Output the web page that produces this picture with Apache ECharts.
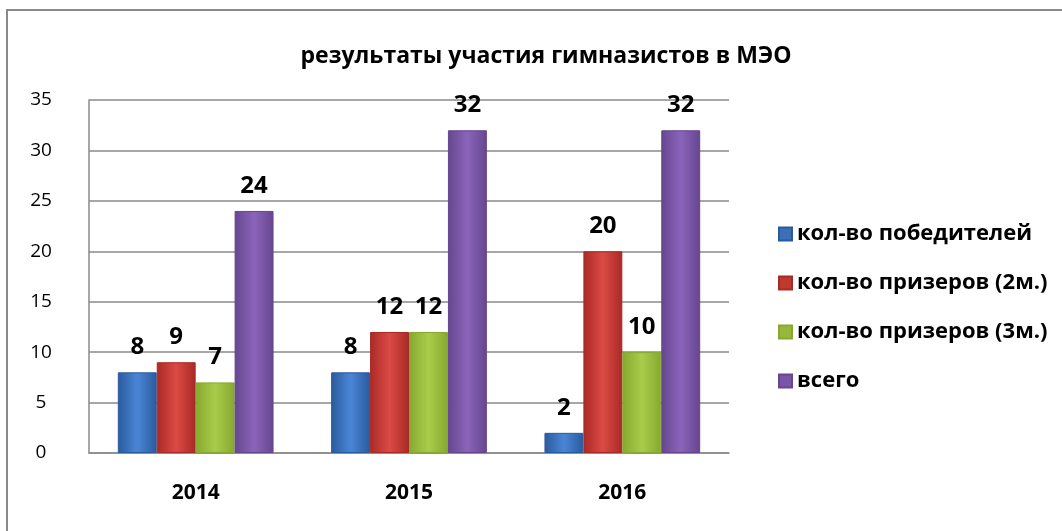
<!DOCTYPE html>
<html><head><meta charset="utf-8">
<script src="https://cdn.jsdelivr.net/npm/echarts@6/dist/echarts.min.js"></script>
<style>html,body{margin:0;padding:0;background:#fff}#c{width:1062px;height:531px}</style>
</head><body><div id="c"></div>
<script>
const categories = ['2014', '2015', '2016'];
const seriesNames = ['кол-во победителей', 'кол-во призеров (2м.)', 'кол-во призеров (3м.)', 'всего'];
const winners = [8, 8, 2];
const prize2 = [9, 12, 20];
const prize3 = [7, 12, 10];
const total = [24, 32, 32];
const yTicks = [0, 5, 10, 15, 20, 25, 30, 35];

const colors = [
  ['#2a5a9e', '#4a86d6', '#2a5a9e'],
  ['#a82a26', '#dc4a44', '#a82a26'],
  ['#86a82e', '#aacc4c', '#86a82e'],
  ['#66468f', '#8a64ba', '#66468f']
];
const legendColors = ['#3b6fb8', '#c0392f', '#98b83c', '#7a55a8'];
const FONT = 'Open Sans';
function grad(c) {
  return new echarts.graphic.LinearGradient(0, 0, 1, 0, [
    {offset: 0, color: c[0]}, {offset: 0.5, color: c[1]}, {offset: 1, color: c[2]}
  ]);
}
const data = [winners, prize2, prize3, total];
const chart = echarts.init(document.getElementById('c'));
chart.setOption({
  animation: false,
  title: {text: 'результаты участия гимназистов в МЭО', left: 541, top: 40, textAlign: 'center',
    textStyle: {fontFamily: FONT, fontWeight: 'bold', fontSize: 23, color: '#000'}},
  graphic: [{type: 'rect', shape: {x: 7, y: 10, width: 1200, height: 600},
    style: {fill: 'none', stroke: '#8a8a8a', lineWidth: 2}, silent: true, z: -1}],
  legend: {orient: 'vertical', left: 773, top: 217, itemGap: 25, itemWidth: 13, itemHeight: 13,
    icon: 'rect', textStyle: {fontFamily: FONT, fontWeight: 'bold', fontSize: 22, lineHeight: 24, color: '#000'},
    data: seriesNames.map((n, i) => ({name: n, itemStyle: {color: legendColors[i]}}))},
  grid: {left: 89, top: 100, width: 640, height: 353, containLabel: false},
  xAxis: {type: 'category', data: categories,
    axisLine: {lineStyle: {color: '#8a8a8a', width: 1.5}}, axisTick: {show: false},
    axisLabel: {fontFamily: FONT, fontWeight: 'bold', fontSize: 21, color: '#000', margin: 30}},
  yAxis: {type: 'value', min: yTicks[0], max: yTicks[yTicks.length - 1], interval: 5,
    axisLine: {show: true, lineStyle: {color: '#8a8a8a', width: 1.5}}, axisTick: {show: false},
    splitLine: {lineStyle: {color: '#8a8a8a', width: 1.5}},
    axisLabel: {fontFamily: FONT, fontSize: 19, color: '#000', margin: 48, align: 'center'}},
  series: seriesNames.map((n, i) => ({
    name: n, type: 'bar', data: data[i], barGap: '0%', barCategoryGap: '27%',
    itemStyle: {color: grad(colors[i]), borderColor: colors[i][0], borderWidth: 1},
    label: {show: true, position: 'top', distance: 13, fontFamily: FONT, fontWeight: 'bold', fontSize: 24, color: '#000'}
  }))
});
</script></body></html>
